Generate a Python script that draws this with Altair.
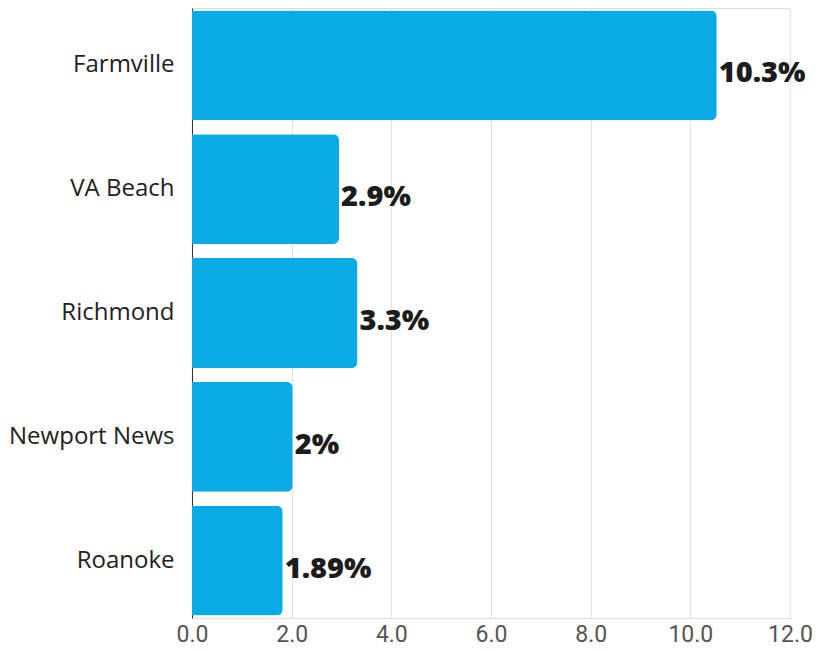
import altair as alt
import pandas as pd

cities = ["Farmville", "VA Beach", "Richmond", "Newport News", "Roanoke"]
bar_values = [10.53, 2.95, 3.32, 2.02, 1.82]
labels = ["10.3%", "2.9%", "3.3%", "2%", "1.89%"]
x_ticks = [0, 2, 4, 6, 8, 10, 12]

df = pd.DataFrame({"city": cities, "value": bar_values, "label": labels})

y_enc = alt.Y(
    "city:N",
    sort=cities,
    title=None,
    scale=alt.Scale(paddingInner=0.113, paddingOuter=0.02),
    axis=alt.Axis(
        labelFontSize=24,
        labelFont="Open Sans",
        labelFontWeight=500,
        labelColor="#222222",
        labelPadding=18,
        ticks=False,
        domain=True,
        domainColor="#333333",
        domainWidth=1,
        grid=False,
    ),
)

x_enc = alt.X(
    "value:Q",
    title=None,
    scale=alt.Scale(domain=[0, 12], nice=False),
    axis=alt.Axis(
        values=x_ticks,
        format=".1f",
        labelFontSize=23,
        labelFont="Roboto",
        labelColor="#555555",
        labelPadding=5,
        labelFlush=False,
        ticks=False,
        domain=False,
        grid=True,
        gridColor="#e3e3e3",
        gridWidth=1.2,
    ),
)

bars = alt.Chart(df).mark_bar(
    color="#0aaae4", cornerRadiusEnd=6
).encode(x=x_enc, y=y_enc)

text = alt.Chart(df).mark_text(
    align="left",
    baseline="middle",
    dx=2,
    dy=8,
    fontSize=29,
    fontWeight=800,
    font="Open Sans",
    color="#1c1c1c",
).encode(
    x=alt.X("value:Q"),
    y=alt.Y("city:N", sort=cities),
    text="label:N",
)

chart = (
    alt.layer(bars, text)
    .properties(width=598, height=610, padding={"left": 0, "top": 0, "right": 0, "bottom": 0})
    .configure_view(stroke=None)
    .configure(background="white")
)

chart.save("out.html", embed_options={"renderer": "svg", "actions": False})
